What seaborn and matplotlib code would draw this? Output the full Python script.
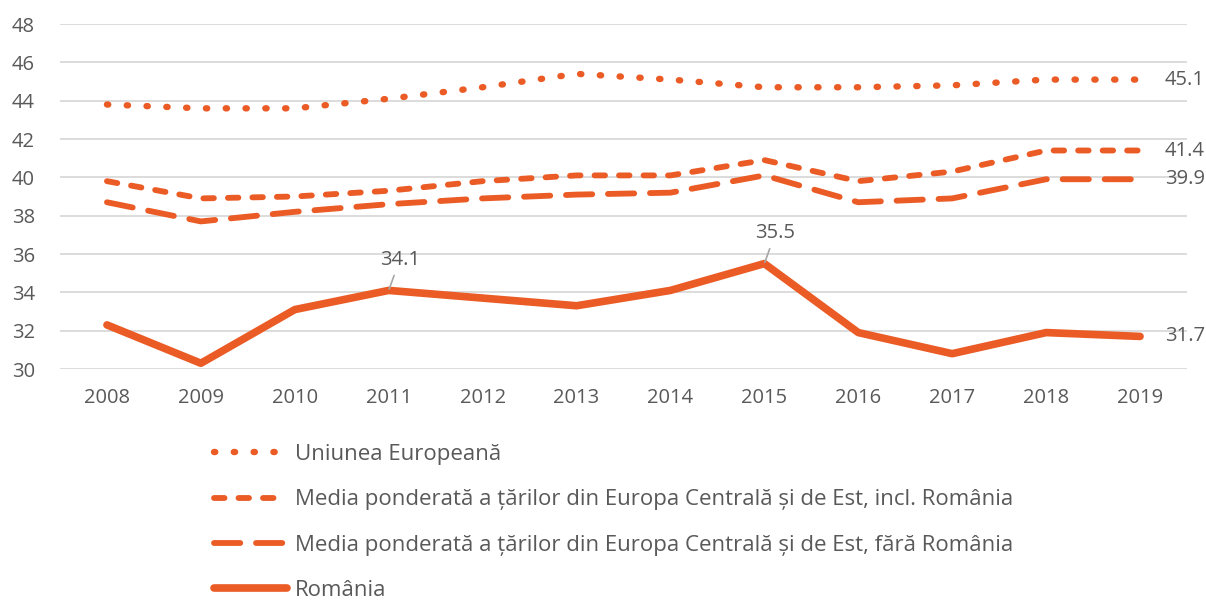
import pandas as pd
import matplotlib.pyplot as plt
import seaborn as sns

ANI = [2008, 2009, 2010, 2011, 2012, 2013, 2014, 2015, 2016, 2017, 2018, 2019]
UE = [43.8, 43.6, 43.6, 44.1, 44.7, 45.4, 45.1, 44.7, 44.7, 44.8, 45.1, 45.1]
ECE_CU_RO = [39.8, 38.9, 39.0, 39.3, 39.8, 40.1, 40.1, 40.9, 39.8, 40.3, 41.4, 41.4]
ECE_FARA_RO = [38.7, 37.7, 38.2, 38.6, 38.9, 39.1, 39.2, 40.1, 38.7, 38.9, 39.9, 39.9]
ROMANIA = [32.3, 30.3, 33.1, 34.1, 33.7, 33.3, 34.1, 35.5, 31.9, 30.8, 31.9, 31.7]

SERII = {
    "Uniunea Europeană": UE,
    "Media ponderată a țărilor din Europa Centrală și de Est, incl. România": ECE_CU_RO,
    "Media ponderată a țărilor din Europa Centrală și de Est, fără România": ECE_FARA_RO,
    "România": ROMANIA,
}
STILURI = [
    dict(linestyle=(0, (0.2, 2.9)), linewidth=4.6),
    dict(linestyle=(0, (1.8, 2.4)), linewidth=4.2),
    dict(linestyle=(0, (4.5, 2.7)), linewidth=4.2),
    dict(linestyle="-", linewidth=5.5),
]

PORTOCALIU = "#EB5B25"
GRI_TEXT = "#595959"

sns.set_style("white")
plt.rcParams["font.family"] = ["Open Sans", "DejaVu Sans"]

fig = plt.figure(figsize=(12.06, 6.02), dpi=100)
ax = fig.add_axes([60 / 1206, 1 - 369 / 602, (1187 - 60) / 1206, (369 - 24) / 602])

for (nume, valori), stil in zip(SERII.items(), STILURI):
    df = pd.DataFrame({"an": ANI, "valoare": valori})
    sns.lineplot(data=df, x="an", y="valoare", ax=ax, color=PORTOCALIU, label=nume,
                 dash_capstyle="round", solid_capstyle="round", solid_joinstyle="round",
                 zorder=3, **stil)

# etichete la capat
for valori in SERII.values():
    ax.annotate(f"{valori[-1]:.1f}", (ANI[-1], valori[-1]), xytext=(18, 0),
                textcoords="offset points", va="center", ha="left",
                fontsize=14.5, color=GRI_TEXT, annotation_clip=False)

# etichete cu linie de legatura
for an in [2011, 2015]:
    v = ROMANIA[ANI.index(an)]
    ax.annotate(f"{v:.1f}", (an, v), xytext=(8, 15), textcoords="offset points",
                ha="center", va="bottom", fontsize=14.5, color=GRI_TEXT,
                arrowprops=dict(arrowstyle="-", color="#a6a6a6", lw=1.2,
                                shrinkA=2, shrinkB=1))

ax.set_xlim(2007.5, 2019.5)
ax.set_ylim(30, 48)
ax.set_xticks(ANI)
ax.set_yticks(range(30, 49, 2))
ax.tick_params(axis="both", labelsize=14.5, labelcolor=GRI_TEXT, length=0)
ax.tick_params(axis="x", pad=14)
ax.tick_params(axis="y", pad=18)
ax.grid(axis="y", color="#d9d9d9", lw=1.3)
ax.set_axisbelow(True)
for s in ax.spines.values():
    s.set_visible(False)
ax.set_xlabel("")
ax.set_ylabel("")

handles, labels = ax.get_legend_handles_labels()
ax.get_legend().remove()
leg = fig.legend(handles, labels, loc="upper left", bbox_to_anchor=(205 / 1206, 1 - 435 / 602),
                 frameon=False, fontsize=16, handlelength=3.3, handletextpad=0.35,
                 labelspacing=1.1, borderaxespad=0)
for t in leg.get_texts():
    t.set_color(GRI_TEXT)

plt.savefig("out.png", dpi=100)
plt.close()
